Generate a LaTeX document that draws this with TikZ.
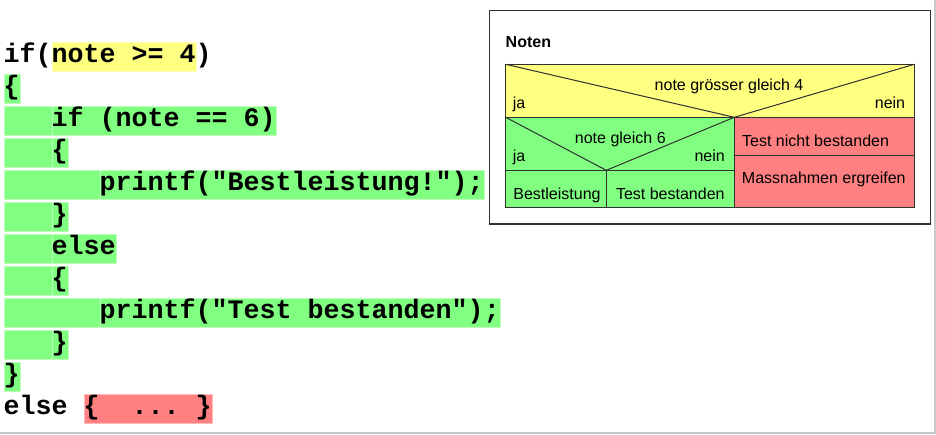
\documentclass[tikz,border=0pt]{standalone}
\usepackage{fontspec}
\setmainfont{Liberation Sans}
\newfontfamily\codefont{Liberation Mono}
\definecolor{noteyellow}{HTML}{FFFF80}
\definecolor{notegreen}{HTML}{80FF80}
\definecolor{notered}{HTML}{FF8080}
\definecolor{linegray}{HTML}{303030}
\definecolor{framegray}{HTML}{C8C8C8}
\tikzstyle{lbl} = [inner sep=0pt, font=\fontsize{16}{19}\selectfont]
\tikzstyle{code} = [inner sep=0pt, anchor=base west,
    font=\codefont\bfseries\fontsize{26.67}{32}\selectfont]

\begin{document}
\begin{tikzpicture}[
x = 1pt, y = -1pt,
hl/.style = {rectangle, fill=#1, draw=#1!55!white, line width=0.8pt,
    inner sep=0pt, minimum height=29pt, anchor=north west},
rule/.style = {draw=linegray, line width=1pt},
                        ]
\useasboundingbox (0,0) rectangle (936,434);
\draw[framegray, line width=1.6pt] (935.2,0) -- (935.2,433.2) -- (0,433.2);

% highlights: row/from/to/colour
\foreach \r/\a/\b/\c in {0/3/12/noteyellow, 1/0/1/notegreen,
    2/0/3/notegreen, 2/3/17/notegreen, 3/0/3/notegreen, 3/3/4/notegreen,
    4/0/6/notegreen, 4/6/30/notegreen, 5/0/3/notegreen, 5/3/4/notegreen,
    6/0/3/notegreen, 6/3/7/notegreen, 7/0/3/notegreen, 7/3/4/notegreen,
    8/0/6/notegreen, 8/6/31/notegreen, 9/0/3/notegreen, 9/3/4/notegreen,
    10/0/1/notegreen, 11/5/13/notered}
  \node[hl=\c, minimum width={(\b-\a)*16pt}] (hl-\r-\a)
    at ({3.5+16*\a},{41.7+32*\r}) {};

% code
\node[code] (c0) at (3.5,62.5) {if(note >= 4)};
\node[code] (c1) at (3.5,94.5) {\{};
\node[code] (c2) at (51.5,126.5) {if (note == 6)};
\node[code] (c3) at (51.5,158.5) {\{};
\node[code] (c4) at (99.5,190.5) {printf("Bestleistung!");};
\node[code] (c5) at (51.5,222.5) {\}};
\node[code] (c6) at (51.5,254.5) {else};
\node[code] (c7) at (51.5,286.5) {\{};
\node[code] (c8) at (99.5,318.5) {printf("Test bestanden");};
\node[code] (c9) at (51.5,350.5) {\}};
\node[code] (c10) at (3.5,382.5) {\}};
\node[code] (c11) at (3.5,414.5) {else \{\ \ ...\ \}};

% structogram
\draw[rule, line width=1.2pt, fill=white] (489.3,10.7) rectangle (930.3,224);
\node[lbl, anchor=base west, font=\fontsize{16}{19}\selectfont\bfseries] (title) at (505.5,47.5) {Noten};

\coordinate (tl) at (505.7,64.3);
\coordinate (tr) at (914.3,64.3);
\coordinate (ml) at (505.7,117.3);
\coordinate (apex) at (734.3,117.3);
\coordinate (mr) at (914.3,117.3);
\coordinate (inner) at (606.3,170.3);
\coordinate (il) at (505.7,170.3);
\coordinate (im) at (734.3,170.3);
\coordinate (bl) at (505.7,207.7);
\coordinate (bi) at (606.3,207.7);
\coordinate (bm) at (734.3,207.7);
\coordinate (br) at (914.3,207.7);
\coordinate (rl) at (734.3,155);
\coordinate (rr) at (914.3,155);

\fill[noteyellow] (tl) rectangle (mr);
\fill[notegreen] (ml) rectangle (bm);
\fill[notered] (apex) rectangle (br);
\draw[rule] (tl) rectangle (br);
\draw[rule] (ml) -- (mr);
\draw[rule] (apex) -- (bm);
\draw[rule] (tl) -- (apex) -- (tr);
\draw[rule] (ml) -- (inner) -- (apex);
\draw[rule] (il) -- (im);
\draw[rule] (inner) -- (bi);
\draw[rule] (rl) -- (rr);

\node[lbl, anchor=base] (cond1) at (729,90.3) {note grösser gleich 4};
\node[lbl, anchor=base west] (ja1) at (512.7,108.3) {ja};
\node[lbl, anchor=base east] (nein1) at (905.3,108.3) {nein};
\node[lbl, anchor=base] (cond2) at (620.3,143.3) {note gleich 6};
\node[lbl, anchor=base west] (ja2) at (512.7,161.7) {ja};
\node[lbl, anchor=base east] (nein2) at (725,161.7) {nein};
\node[lbl, anchor=base] (best) at (557,199) {Bestleistung};
\node[lbl, anchor=base] (passed) at (670.3,199) {Test bestanden};
\node[lbl, anchor=base west] (failed) at (742,146.7) {Test nicht bestanden};
\node[lbl, anchor=base] (action) at (823.8,183.3) {Massnahmen ergreifen};
\end{tikzpicture}
\end{document}
